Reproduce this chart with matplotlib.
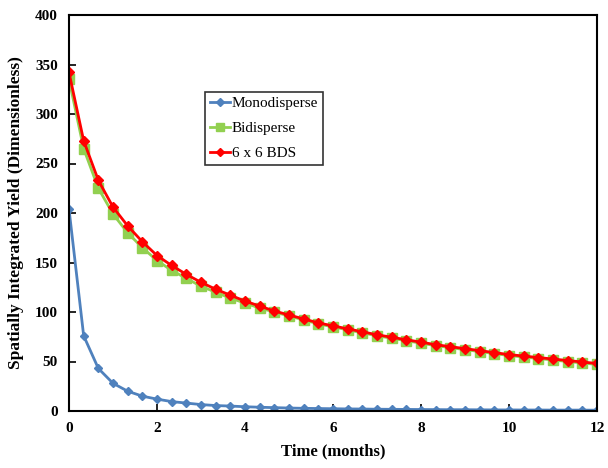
import numpy as np
import matplotlib.pyplot as plt

plt.rcParams['font.family'] = ['Liberation Serif', 'DejaVu Serif']
plt.rcParams['font.weight'] = 'bold'

# time in months, sampled every 1/3 month
time = np.arange(37) / 3.0

mono = [204, 76, 43, 28, 20, 15, 12, 9.5, 8, 6.5, 5.5, 5, 4.3, 3.8, 3.4, 3.0, 2.7,
        2.5, 2.3, 2.1, 2.0, 1.8, 1.7, 1.6, 1.5, 1.4, 1.3, 1.3, 1.2, 1.1, 1.1, 1.0,
        1.0, 0.9, 0.9, 0.9, 0.8]
bidi = [335, 265, 225, 199, 180, 165, 152, 142, 134, 126, 120, 114, 109, 104, 100,
        96, 92, 88, 85, 82, 79, 76, 73.5, 71, 68.5, 66, 64, 62, 60, 58, 56, 54.5,
        53, 51.5, 50, 48.5, 47]
bds = [342, 273, 233, 206, 187, 171, 157, 147, 138, 130, 123, 117, 111, 106, 101,
       97, 93, 89, 86, 83, 80, 77, 74.5, 72, 69.5, 67, 65, 63, 61, 59, 57, 55.5,
       54, 52.5, 51, 49.5, 48]

fig = plt.figure(figsize=(6.08, 4.68), dpi=100)
ax = fig.add_axes([69 / 608, 57 / 468, 528 / 608, 396 / 468])

ax.plot(time, mono, color='#4F81BD', lw=2, marker='D', ms=4.5, label='Monodisperse')
ax.plot(time, bidi, color='#92D050', lw=2, marker='s', ms=6.5, label='Bidisperse')
ax.plot(time, bds, color='#FF0000', lw=2, marker='D', ms=5.5, label='6 x 6 BDS')

ax.set_xlim(0, 12)
ax.set_ylim(0, 400)
ax.set_xticks(range(0, 13, 2))
ax.set_yticks(range(0, 401, 50))
ax.tick_params(direction='in', length=5, width=1.2, labelsize=11, pad=8)
for s in ax.spines.values():
    s.set_linewidth(1.5)

ax.set_xlabel('Time (months)', fontsize=12, fontweight='bold', labelpad=6)
ax.set_ylabel('Spatially Integrated Yield (Dimensionless)', fontsize=12.5,
              fontweight='bold', labelpad=8)

leg = ax.legend(loc='upper left', bbox_to_anchor=(0.258, 0.806), borderaxespad=0,
                fontsize=11, frameon=True, fancybox=False, edgecolor='black',
                handlelength=1.3, handletextpad=0.15, borderpad=0.3,
                labelspacing=0.75, markerscale=0.8)
leg.get_frame().set_linewidth(1.2)
for t in leg.get_texts():
    t.set_fontweight('normal')

fig.savefig('out.png', dpi=100)
